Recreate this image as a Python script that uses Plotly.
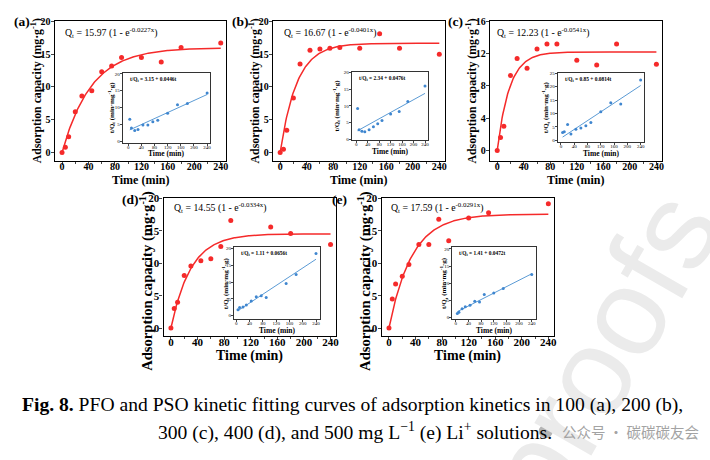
import numpy as np
import plotly.graph_objects as go

W, H = 710, 460

# ---------------- data ----------------
time_abc = [0, 5, 10, 20, 30, 45, 60, 75, 90, 120, 150, 180, 240]
q_a = [0, 0.8, 2.4, 6.2, 8.6, 9.4, 12.3, 13.2, 14.5, 14.5, 13.8, 16.0, 16.7]
q_b = [0, 0.5, 3.4, 8.3, 13.5, 15.6, 15.8, 15.9, 16.0, 15.9, 18.1, 15.9, 15.0]
q_c = [0, 1.6, 3.0, 9.3, 11.4, 10.2, 12.6, 13.2, 13.2, 11.2, 10.6, 13.2, 10.7]
time_d = [0, 5, 10, 20, 30, 45, 60, 75, 90, 150, 180, 240]
q_d = [0, 3.0, 4.0, 8.1, 9.6, 10.4, 10.7, 12.6, 16.6, 15.6, 14.6, 12.9]
time_e = [0, 5, 10, 20, 30, 45, 60, 75, 90, 120, 150, 240]
q_e = [0, 4.5, 6.8, 8.0, 9.8, 12.9, 12.9, 16.8, 13.5, 17.0, 17.8, 19.2]

# PSO linear plots (t/Qt)
tin_abc = [5, 10, 20, 30, 45, 60, 75, 90, 120, 150, 180, 240]
r_a = [6.5, 3.9, 3.2, 3.5, 4.8, 4.8, 5.8, 6.2, 8.3, 10.8, 11.2, 14.3]
r_b = [9.2, 2.9, 2.4, 2.3, 2.9, 3.8, 4.7, 5.6, 7.6, 8.3, 11.3, 16.0]
r_c = [3.0, 3.2, 5.9, 2.4, 4.2, 4.6, 5.5, 6.7, 10.7, 14.0, 13.5, 22.4]
tin_d = [5, 10, 20, 30, 45, 60, 75, 90, 150, 180, 240]
r_d = [1.7, 2.4, 2.5, 3.1, 4.3, 5.6, 5.9, 5.4, 9.6, 12.3, 18.6]
tin_e = [5, 10, 20, 30, 45, 60, 75, 90, 120, 150, 240]
r_e = [1.1, 1.5, 2.5, 3.1, 3.5, 4.7, 4.5, 6.7, 7.1, 8.4, 12.5]

# fitted parameters
pfo_qe = [15.97, 16.67, 12.23, 14.55, 17.59]
pfo_k = [0.0227, 0.0401, 0.0541, 0.0334, 0.0291]
pso_a = [3.15, 2.34, 0.85, 1.11, 1.41]
pso_b = [0.0446, 0.0476, 0.0814, 0.0656, 0.0472]
pfo_k_txt = ["0.0227", "0.0401", "0.0541", "0.0334", "0.0291"]
pso_a_txt = ["3.15", "2.34", "0.85", "1.11", "1.41"]
pso_b_txt = ["0.0446", "0.0476", "0.0814", "0.0656", "0.0472"]
pfo_qe_txt = ["15.97", "16.67", "12.23", "14.55", "17.59"]
labels = ["(a)", "(b)", "(c)", "(d)", "(e)"]

main_t = [time_abc, time_abc, time_abc, time_d, time_e]
main_q = [q_a, q_b, q_c, q_d, q_e]
ins_t = [tin_abc, tin_abc, tin_abc, tin_d, tin_e]
ins_r = [r_a, r_b, r_c, r_d, r_e]

main_xticks = [0, 40, 80, 120, 160, 200, 240]
main_yticks = [[0, 5, 10, 15, 20]] * 2 + [[0, 4, 8, 12, 16]] + [[0, 5, 10, 15, 20]] * 2
ins_xticks = [0, 40, 80, 120, 160, 200, 240]
ins_yticks = [[0, 5, 10, 15, 20]] * 2 + [[0, 5, 10, 15, 20, 25]] + [[0, 5, 10, 15, 20]] * 2

# ---------------- layout geometry (pixels) ----------------
main_box = [
    dict(x0=55, x1=227, y0=15, y1=158, xr=[-11, 248], yr=[-1.35, 20.1], ytc=86),
    dict(x0=274, x1=446.5, y0=15, y1=158, xr=[-11, 248], yr=[-1.35, 20.1], ytc=86),
    dict(x0=492, x1=664.5, y0=15, y1=158, xr=[-11, 248], yr=[-1.35, 16.1], ytc=86),
    dict(x0=164.3, x1=337.3, y0=195.7, y1=335.7, xr=[-11, 248], yr=[-1.21, 20.05], ytc=280),
    dict(x0=383.3, x1=556, y0=195.7, y1=335.7, xr=[-11, 248], yr=[-1.21, 20.05], ytc=280),
]
ins_box = [
    dict(x0=123.3, x1=211, y0=68.3, y1=139, xr=[-16.3, 249.1], yr=[-0.4, 20.2], ytx=112),
    dict(x0=353.3, x1=430, y0=66.7, y1=136.7, xr=[-15.3, 251], yr=[-0.3, 20.3], ytx=338),
    dict(x0=560, x1=646.7, y0=68, y1=138.5, xr=[-10, 250], yr=[-0.6, 25.1], ytx=548),
    dict(x0=235, x1=321.7, y0=245, y1=319, xr=[-7, 253], yr=[-1.2, 20.6], ytx=226),
    dict(x0=454, x1=538, y0=245, y1=318.5, xr=[-11.6, 252.6], yr=[-0.5, 20.66], ytx=446),
]
label_pos = [(12, 16), (231, 16), (448, 16), (121, 197), (331, 197)]
eq_pos = [(63, 27), (283, 27), (497, 27), (173, 205), (391, 205)]
xtitle_y = [177, 177, 177, 356, 356]
top_row = [True, True, True, False, False]

SERIF = "Liberation Serif"
RED = "#f52a2a"
BLUE = "#3f86cf"


def px(x):
    return x / W


def py(y):
    return 1 - y / H


fig = go.Figure()
layout = dict(
    width=W, height=H, margin=dict(l=0, r=0, t=0, b=0),
    paper_bgcolor="white", plot_bgcolor="white", showlegend=False,
    font=dict(family=SERIF, color="black"),
)
annotations = []
shapes = []

# watermark
annotations.append(dict(
    text="proofs", x=px(604), y=py(352), xref="paper", yref="paper",
    showarrow=False, textangle=-60, font=dict(family="Liberation Sans", size=124, color="#ebebeb"),
    xanchor="center", yanchor="middle"))

for i in range(5):
    m = main_box[i]
    n = i + 1
    xa = "xaxis" if n == 1 else f"xaxis{n}"
    ya = "yaxis" if n == 1 else f"yaxis{n}"
    xr = "x" if n == 1 else f"x{n}"
    yr = "y" if n == 1 else f"y{n}"
    tfs = 10 if top_row[i] else 11
    layout[xa] = dict(
        domain=[px(m["x0"]), px(m["x1"])], range=m["xr"], anchor=yr,
        tickvals=main_xticks, ticks="outside", ticklen=3, tickwidth=1.1,
        showline=True, linecolor="black", linewidth=1.3, mirror=True,
        showgrid=False, zeroline=False, ticklabelstandoff=-7,
        tickfont=dict(family=SERIF, size=tfs, color="black", weight="bold"),
        minor=dict(ticks="outside", ticklen=2, tickvals=[20, 60, 100, 140, 180, 220], tickwidth=1),
    )
    layout[ya] = dict(
        domain=[py(m["y1"]), py(m["y0"])], range=m["yr"], anchor=xr,
        tickvals=main_yticks[i], ticks="outside", ticklen=3, tickwidth=1.1,
        showline=True, linecolor="black", linewidth=1.3, mirror=True,
        showgrid=False, zeroline=False, ticklabelstandoff=-2,
        tickfont=dict(family=SERIF, size=tfs, color="black", weight="bold"),
    )
    # fit curve
    tt = np.linspace(0, 240, 200)
    fig.add_trace(go.Scatter(x=tt, y=pfo_qe[i] * (1 - np.exp(-pfo_k[i] * tt)), mode="lines",
                             line=dict(color=RED, width=1.5), xaxis=xr, yaxis=yr))
    fig.add_trace(go.Scatter(x=main_t[i], y=main_q[i], mode="markers",
                             marker=dict(color=RED, size=5, line=dict(width=0)),
                             xaxis=xr, yaxis=yr, cliponaxis=False))

    yt_size = 11.8 if top_row[i] else 14.6
    xt_size = 12 if top_row[i] else 14
    annotations += [
        dict(text="<b>" + labels[i] + "</b>", x=px(label_pos[i][0]), y=py(label_pos[i][1]),
             xanchor="left", yanchor="middle", font=dict(size=13.5)),
        dict(text="Q<sub>t</sub> = " + pfo_qe_txt[i] + " (1 - e<sup>-" + pfo_k_txt[i] + "x</sup>)",
             x=px(eq_pos[i][0]), y=py(eq_pos[i][1]), xanchor="left", yanchor="middle",
             font=dict(size=9.8)),
        dict(text="<b>Adsorption capacity (mg·g<sup>-1</sup>)</b>", textangle=-90,
             x=px(m["x0"] - 18), y=py(m["ytc"]), xanchor="center", yanchor="middle",
             font=dict(size=yt_size)),
        dict(text="<b>Time (min)</b>", x=px((m["x0"] + m["x1"]) / 2), y=py(xtitle_y[i]),
             xanchor="center", yanchor="middle", font=dict(size=xt_size)),
    ]

for i in range(5):
    b = ins_box[i]
    n = i + 6
    xr = f"x{n}"
    yr = f"y{n}"
    layout[f"xaxis{n}"] = dict(
        domain=[px(b["x0"]), px(b["x1"])], range=b["xr"], anchor=yr,
        tickvals=ins_xticks, ticks="outside", ticklen=2, tickwidth=0.6,
        showline=True, linecolor="#333333", linewidth=0.9, mirror=True,
        showgrid=False, zeroline=False, ticklabelstandoff=-3,
        tickfont=dict(family=SERIF, size=5, color="black"),
    )
    layout[f"yaxis{n}"] = dict(
        domain=[py(b["y1"]), py(b["y0"])], range=b["yr"], anchor=xr,
        tickvals=ins_yticks[i], ticks="outside", ticklen=2, tickwidth=0.6,
        showline=True, linecolor="#333333", linewidth=0.9, mirror=True,
        showgrid=False, zeroline=False, ticklabelstandoff=-1,
        tickfont=dict(family=SERIF, size=5, color="black"),
    )
    tl = np.array([5, 240])
    fig.add_trace(go.Scatter(x=tl, y=pso_a[i] + pso_b[i] * tl, mode="lines",
                             line=dict(color="#5b9bd5", width=1), xaxis=xr, yaxis=yr))
    fig.add_trace(go.Scatter(x=ins_t[i], y=ins_r[i], mode="markers",
                             marker=dict(color=BLUE, size=3, line=dict(width=0)),
                             xaxis=xr, yaxis=yr))
    annotations += [
        dict(text="t/Q<sub>t</sub> = " + pso_a_txt[i] + " + " + pso_b_txt[i] + "t",
             x=px(b["x0"] + 5), y=py(b["y0"] + 7), xanchor="left", yanchor="middle",
             font=dict(size=5.4, weight="bold")),
        dict(text="<b>t/Q<sub>t</sub> (min·mg<sup>-1</sup>·g)</b>", textangle=-90,
             x=px(b["ytx"]), y=py((b["y0"] + b["y1"]) / 2), xanchor="center", yanchor="middle",
             font=dict(size=7)),
        dict(text="<b>Time (min)</b>", x=px((b["x0"] + b["x1"]) / 2), y=py(b["y1"] + 11.5),
             xanchor="center", yanchor="middle", font=dict(size=7.5)),
    ]

# caption
annotations += [
    dict(text="<b>Fig. 8.</b> PFO and PSO kinetic fitting curves of adsorption kinetics in 100 (a), 200 (b),",
         x=px(354), y=py(406), xanchor="center", yanchor="middle", font=dict(size=19.6)),
    dict(text="300 (c), 400 (d), and 500 mg L<sup>−1</sup> (e) Li<sup>+</sup> solutions.",
         x=px(357), y=py(433), xanchor="center", yanchor="middle", font=dict(size=19.6)),
    dict(text="公众号 · 碳碳碳友会", x=px(562), y=py(433), xanchor="left", yanchor="middle",
         font=dict(family="Noto Sans CJK SC", size=14.5, color="#a3a3a3")),
]
shapes.append(dict(type="circle", xref="paper", yref="paper",
                   x0=px(541), x1=px(555), y0=py(440), y1=py(426),
                   fillcolor="#b5b5b5", line=dict(width=0)))

for a in annotations:
    a.setdefault("xref", "paper")
    a.setdefault("yref", "paper")
    a.setdefault("showarrow", False)

layout["annotations"] = annotations
layout["shapes"] = shapes
fig.update_layout(**layout)
fig.write_html("out.html")
